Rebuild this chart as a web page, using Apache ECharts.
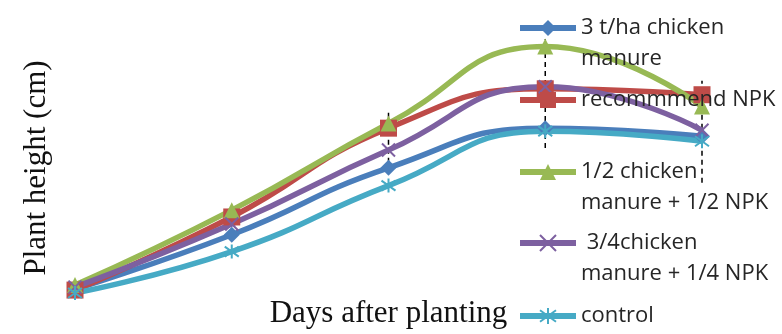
<!DOCTYPE html>
<html>
<head>
<meta charset="utf-8">
<script src="https://cdn.jsdelivr.net/npm/echarts@6/dist/echarts.min.js"></script>
<style>
  html, body { margin: 0; padding: 0; background: #fff; }
  #chart { width: 782px; height: 334px; }
</style>
</head>
<body>
<div id="chart"></div>
<script>
// sampling days (no tick labels shown in the picture)
const days = ['15', '30', '45', '60', '75']

// plant height (axis has no numbers)
const chicken3t = [2.3, 20.7, 43.3, 56.7, 54]
const recNpk = [2, 26.7, 56.7, 70, 68]
const halfHalf = [3.7, 29, 58.3, 84.3, 64]
const threeQuarter = [3, 24.3, 49.3, 70.7, 56]
const control = [1, 15, 37.3, 55.7, 52.3]

// dashed range bars
const barLow = [null, null, 45, 50, 38.3]
const barHigh = [null, null, 62.3, 86.7, 72.7]

const names = [
  '3 t/ha chicken manure',
  'recommmend NPK',
  '1/2 chicken manure + 1/2 NPK',
  '3/4chicken manure + 1/4 NPK',
  'control',
]
const legendText = {
  '3 t/ha chicken manure': '\n3 t/ha chicken\nmanure',
  'recommmend NPK': 'recommmend NPK',
  '1/2 chicken manure + 1/2 NPK': '\n1/2 chicken\nmanure + 1/2 NPK',
  '3/4chicken manure + 1/4 NPK': '\n 3/4chicken\nmanure + 1/4 NPK',
  'control': 'control',
}
const legendTop = [-18.5, 84.5, 125.5, 196.5, 300.5]

const xPath = 'path://M0,0L10,10M10,0L0,10'
const starPath = 'path://M0,0L10,10M10,0L0,10M5,-2L5,12'

const chart = echarts.init(document.getElementById('chart'))

function mkLine(name, data, color, symbol, size, stroke) {
  return {
    name,
    type: 'line',
    data,
    smooth: 0.5,
    symbol,
    symbolSize: size,
    lineStyle: { color, width: 5.5 },
    itemStyle: stroke
      ? { color, borderColor: color, borderWidth: 2 }
      : { color },
  }
}

const barData = days.map((d, i) => [i, barLow[i], barHigh[i]]).filter(r => r[1] != null)

const option = {
  animation: false,
  grid: { left: 75, right: 80, top: 0, bottom: 34 },
  xAxis: {
    type: 'category',
    data: days,
    boundaryGap: false,
    axisLine: { show: false },
    axisTick: { show: false },
    axisLabel: { show: false },
    name: 'Days after planting',
    nameLocation: 'middle',
    nameGap: 2,
    nameTextStyle: { fontFamily: 'Liberation Serif', fontSize: 31, color: '#111' },
  },
  yAxis: {
    type: 'value',
    min: 0,
    max: 100,
    axisLine: { show: false },
    axisTick: { show: false },
    axisLabel: { show: false },
    splitLine: { show: false },
    name: 'Plant height (cm)',
    nameLocation: 'middle',
    nameGap: 23,
    nameTextStyle: { fontFamily: 'Liberation Serif', fontSize: 31, color: '#111', padding: [0, 40, 0, 0] },
  },
  legend: names.map((n, i) => ({
    data: [n],
    orient: 'vertical',
    left: 517,
    top: legendTop[i],
    padding: 0,
    itemWidth: 56,
    itemHeight: 20,
    itemGap: 0,
    lineStyle: { width: 6 },
    formatter: name => legendText[name],
    textStyle: { fontFamily: 'Open Sans', fontSize: 22, lineHeight: 31, color: '#262626' },
  })),
  series: [
    {
      type: 'custom',
      data: barData,
      silent: true,
      renderItem: (params, api) => {
        const lo = api.coord([api.value(0), api.value(1)])
        const hi = api.coord([api.value(0), api.value(2)])
        return {
          type: 'line',
          shape: { x1: lo[0], y1: lo[1], x2: hi[0], y2: hi[1] },
          style: { stroke: '#000', lineWidth: 1.5, lineDash: [5, 4] },
        }
      },
    },
    mkLine(names[0], chicken3t, '#4A7EBB', 'diamond', 16, false),
    mkLine(names[1], recNpk, '#BE4B48', 'rect', 17, false),
    mkLine(names[2], halfHalf, '#98B954', 'triangle', 16, false),
    mkLine(names[3], threeQuarter, '#7D60A0', xPath, 13, true),
    mkLine(names[4], control, '#46AAC5', starPath, 14, true),
  ],
}

chart.setOption(option)
</script>
</body>
</html>
